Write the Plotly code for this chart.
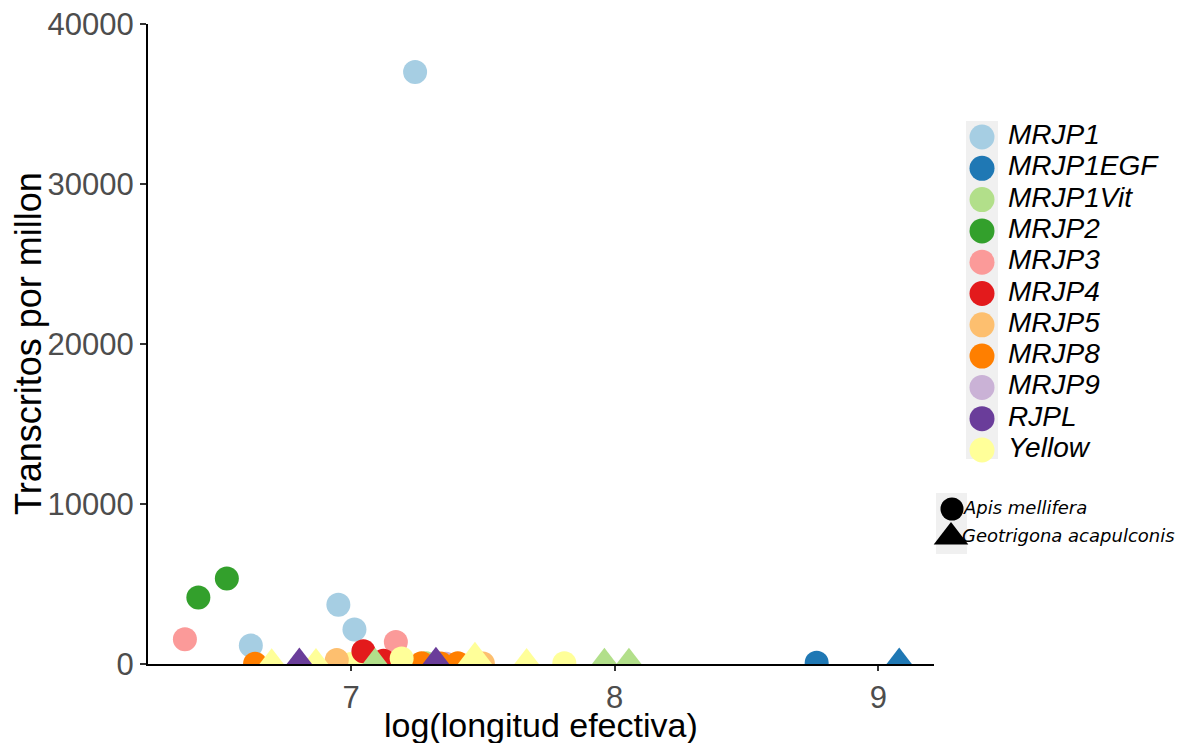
import plotly.graph_objects as go

# ---------------- data ----------------
genes = ["MRJP1", "MRJP1EGF", "MRJP1Vit", "MRJP2", "MRJP3", "MRJP4",
         "MRJP5", "MRJP8", "MRJP9", "RJPL", "Yellow"]
species_names = ["Apis mellifera", "Geotrigona acapulconis"]

# points listed in drawing order
pt_gene = ["Yellow", "MRJP1", "MRJP1", "MRJP1", "MRJP1", "MRJP1EGF", "MRJP1Vit",
           "MRJP2", "MRJP2", "MRJP3", "MRJP3", "MRJP4", "MRJP4", "MRJP5", "MRJP5",
           "MRJP9", "MRJP8", "MRJP8", "MRJP8", "MRJP8", "Yellow", "Yellow",
           "Yellow", "Yellow", "Yellow", "Yellow", "RJPL", "RJPL",
           "MRJP1Vit", "MRJP1Vit", "MRJP1Vit", "MRJP1EGF"]
pt_species = ["Apis mellifera"] * 22 + ["Geotrigona acapulconis"] * 10
pt_logx = [7.00, 7.243, 6.952, 7.013, 6.620, 8.766, 7.285,
           6.421, 6.529, 6.370, 7.170, 7.047, 7.123, 6.946, 7.500,
           7.360, 6.636, 7.268, 7.340, 7.405, 7.192, 7.809,
           6.699, 6.867, 7.470, 7.666, 6.804, 7.322,
           7.091, 7.961, 8.054, 9.079]
pt_tpm = [0, 37000, 3700, 2150, 1150, 80, 40,
          4150, 5350, 1550, 1380, 800, 200, 250, 30,
          10, 20, 40, 30, 40, 350, 40,
          20, 30, 420, 30, 60, 110,
          40, 40, 50, 60]

x_ticks = [7, 8, 9]
y_ticks = [0, 10000, 20000, 30000, 40000]
x_title = "log(longitud efectiva)"
y_title = "Transcritos por millon"

# ---------------- styling ----------------
palette = {
    "MRJP1": "#A6CEE3", "MRJP1EGF": "#1F78B4", "MRJP1Vit": "#B2DF8A",
    "MRJP2": "#33A02C", "MRJP3": "#FB9A99", "MRJP4": "#E31A1C",
    "MRJP5": "#FDBF6F", "MRJP8": "#FF7F00", "MRJP9": "#CAB2D6",
    "RJPL": "#6A3D9A", "Yellow": "#FFFF99",
}
symbols = {"Apis mellifera": "circle", "Geotrigona acapulconis": "triangle-up"}
sizes = {"Apis mellifera": 24, "Geotrigona acapulconis": 31}

W, H = 1181, 743
px_left, px_right, px_top, px_bottom = 148, 934, 24, 664
FONT = "Liberation Sans, Arial, sans-serif"

fig = go.Figure()

fig.add_trace(go.Scatter(
    x=pt_logx, y=pt_tpm, mode="markers",
    marker=dict(color=[palette[g] for g in pt_gene],
                symbol=[symbols[s] for s in pt_species],
                size=[sizes[s] for s in pt_species],
                opacity=1, line=dict(width=0)),
    cliponaxis=True, showlegend=False, hoverinfo="skip",
    xaxis="x", yaxis="y",
))

# ---------------- manual legends (on a pixel-scaled helper axis) ----------------
lx0 = 0.792
leg_y0, leg_dy = 137, 31.3
leg_rows = [leg_y0 + i * leg_dy for i in range(len(genes))]

fig.add_trace(go.Scatter(
    x=[982] * len(genes), y=leg_rows, mode="markers",
    marker=dict(color=[palette[g] for g in genes], size=25, symbol="circle",
                opacity=1, line=dict(width=0)),
    showlegend=False, hoverinfo="skip", xaxis="x2", yaxis="y2", cliponaxis=False,
))
fig.add_trace(go.Scatter(
    x=[1008] * len(genes), y=leg_rows, mode="text",
    text=["<i>%s</i>" % g for g in genes], textposition="middle right",
    textfont=dict(family=FONT, size=28, color="black"),
    showlegend=False, hoverinfo="skip", xaxis="x2", yaxis="y2", cliponaxis=False,
))

sp_rows = [509, 537]
fig.add_trace(go.Scatter(
    x=[952, 951], y=sp_rows, mode="markers",
    marker=dict(color="black", size=[23, 30],
                symbol=[symbols[s] for s in species_names],
                opacity=1, line=dict(width=0)),
    showlegend=False, hoverinfo="skip", xaxis="x2", yaxis="y2", cliponaxis=False,
))
fig.add_trace(go.Scatter(
    x=[964, 962], y=sp_rows, mode="text",
    text=["<i>%s</i>" % s for s in species_names], textposition="middle right",
    textfont=dict(family="DejaVu Sans, sans-serif", size=18, color="black"),
    showlegend=False, hoverinfo="skip", xaxis="x2", yaxis="y2", cliponaxis=False,
))

shapes = [
    dict(type="rect", xref="x2", yref="y2", x0=966, x1=998, y0=121, y1=459,
         fillcolor="#F0F0F0", line=dict(width=0), layer="below"),
    dict(type="rect", xref="x2", yref="y2", x0=936, x1=967, y0=493, y1=554,
         fillcolor="#F0F0F0", line=dict(width=0), layer="below"),
]

annotations = [
    dict(text=x_title, xref="paper", yref="paper",
         x=(px_left + px_right) / 2 / W, y=(H - 725) / H,
         xanchor="center", yanchor="middle", showarrow=False,
         font=dict(family=FONT, size=34, color="black")),
    dict(text=y_title, xref="paper", yref="paper", textangle=-90,
         x=28 / W, y=(H - (px_top + px_bottom) / 2) / H,
         xanchor="center", yanchor="middle", showarrow=False,
         font=dict(family=FONT, size=36, color="black")),
]

fig.update_layout(
    width=W, height=H,
    margin=dict(l=0, r=0, t=0, b=0),
    paper_bgcolor="white", plot_bgcolor="white",
    shapes=shapes, annotations=annotations,
    xaxis=dict(
        domain=[px_left / W, px_right / W], range=[6.230, 9.211],
        tickvals=x_ticks, ticktext=[str(v) for v in x_ticks],
        ticks="outside", ticklen=5, tickwidth=1.5, tickcolor="#333333",
        showline=True, linecolor="black", linewidth=2.3,
        showgrid=False, zeroline=False,
        tickfont=dict(family=FONT, size=31, color="#4D4D4D"),
        anchor="y", automargin=False,
    ),
    yaxis=dict(
        domain=[(H - px_bottom) / H, (H - px_top) / H], range=[0, 40000],
        tickvals=y_ticks, ticktext=[str(v) for v in y_ticks],
        ticks="outside", ticklen=6, tickwidth=1.5, tickcolor="#333333",
        showline=True, linecolor="black", linewidth=2.3,
        showgrid=False, zeroline=False,
        tickfont=dict(family=FONT, size=31, color="#4D4D4D"),
        anchor="x", automargin=False,
    ),
    xaxis2=dict(domain=[lx0, 1.0], range=[lx0 * W, W], visible=False,
                anchor="y2", fixedrange=True),
    yaxis2=dict(domain=[0, 1], range=[H, 0], visible=False,
                anchor="x2", fixedrange=True),
    showlegend=False,
)

fig.write_html("out.html",
               config={"displayModeBar": False},
               post_script="document.body.style.margin='0';document.body.style.overflow='hidden';")
